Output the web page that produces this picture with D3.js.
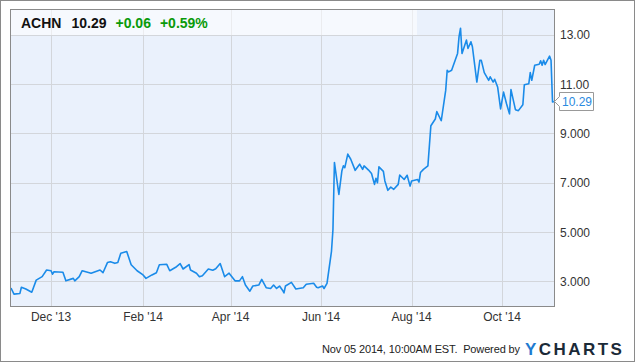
<!DOCTYPE html>
<html>
<head>
<meta charset="utf-8">
<script src="https://cdnjs.cloudflare.com/ajax/libs/d3/7.8.5/d3.min.js"></script>
<style>
  body { margin: 0; background: #fff; }
  text { font-family: "Liberation Sans", Arial, sans-serif; }
</style>
</head>
<body>
<script>
// Data
const dates = [
  "2013-11-04","2013-11-06","2013-11-10","2013-11-11","2013-11-14","2013-11-18","2013-11-21","2013-11-25","2013-11-28",
  "2013-12-01","2013-12-02","2013-12-03","2013-12-09","2013-12-11","2013-12-16","2013-12-17","2013-12-20","2013-12-22","2013-12-28",
  "2014-01-03","2014-01-05","2014-01-08","2014-01-10","2014-01-13","2014-01-15","2014-01-17","2014-01-21","2014-01-24","2014-01-28",
  "2014-02-01","2014-02-03","2014-02-07","2014-02-10","2014-02-12","2014-02-17","2014-02-19","2014-02-23","2014-02-26","2014-02-28",
  "2014-03-04","2014-03-05","2014-03-09","2014-03-11","2014-03-13","2014-03-17","2014-03-20","2014-03-22","2014-03-25","2014-03-28","2014-03-31",
  "2014-04-04","2014-04-07","2014-04-09","2014-04-11","2014-04-14","2014-04-16","2014-04-20","2014-04-22","2014-04-25","2014-04-28","2014-04-30",
  "2014-05-02","2014-05-04","2014-05-06","2014-05-07","2014-05-08","2014-05-12","2014-05-15","2014-05-20","2014-05-22","2014-05-27","2014-05-29","2014-05-30",
  "2014-06-02","2014-06-03","2014-06-05","2014-06-08","2014-06-09","2014-06-10","2014-06-13","2014-06-15","2014-06-16","2014-06-17","2014-06-19","2014-06-21","2014-06-24","2014-06-27","2014-06-29","2014-06-30",
  "2014-07-03","2014-07-05","2014-07-07","2014-07-08","2014-07-09","2014-07-10","2014-07-13","2014-07-14","2014-07-16","2014-07-18","2014-07-20","2014-07-23","2014-07-24","2014-07-27","2014-07-29","2014-07-31",
  "2014-08-01","2014-08-05","2014-08-06","2014-08-07","2014-08-09","2014-08-12","2014-08-14","2014-08-17","2014-08-18","2014-08-21","2014-08-24","2014-08-25","2014-08-26","2014-08-28",
  "2014-09-01","2014-09-02","2014-09-03","2014-09-04","2014-09-07","2014-09-08","2014-09-10","2014-09-11","2014-09-14","2014-09-16","2014-09-17","2014-09-19","2014-09-22","2014-09-23","2014-09-25","2014-09-26","2014-09-28","2014-09-30",
  "2014-10-02","2014-10-04","2014-10-06","2014-10-07","2014-10-10","2014-10-12","2014-10-15","2014-10-16","2014-10-19","2014-10-20","2014-10-21","2014-10-23","2014-10-26","2014-10-27","2014-10-28","2014-10-29","2014-10-30",
  "2014-11-02","2014-11-03","2014-11-04","2014-11-05"
]
const prices = [
  2.73,2.48,2.51,2.76,2.69,2.56,3.05,3.19,3.46,
  3.43,3.29,3.39,3.37,3.02,3.12,3.02,3.19,3.43,3.33,
  3.46,3.35,3.76,3.79,3.73,3.76,4.14,4.21,3.67,3.43,
  3.26,3.12,3.26,3.35,3.67,3.69,3.43,3.57,3.72,3.50,
  3.68,3.46,3.33,3.19,3.23,3.50,3.45,3.51,3.72,3.19,3.33,
  3.02,3.02,3.19,2.85,2.60,2.81,2.85,3.08,2.74,2.71,2.85,
  2.71,2.81,2.64,2.53,2.81,2.96,2.69,2.74,2.88,2.92,2.76,2.74,
  2.81,2.71,2.92,4.21,5.09,7.82,6.52,7.47,7.68,7.61,8.16,7.95,7.50,7.75,7.54,7.68,
  7.51,7.37,6.93,7.18,7.00,7.64,7.46,7.07,6.69,6.82,6.73,6.93,7.31,7.13,7.30,6.86,
  7.07,7.13,7.02,7.41,7.54,7.68,9.31,9.58,9.88,9.51,10.74,11.56,11.49,11.56,
  12.24,12.92,13.26,12.24,12.78,12.44,12.71,12.51,11.08,11.96,11.96,11.46,11.15,11.29,11.08,11.19,10.88,9.99,
  10.67,10.20,9.79,10.77,9.96,9.92,10.16,10.97,11.01,11.46,11.15,11.76,11.80,11.94,11.76,11.96,11.79,
  12.13,11.96,10.27,10.29
]
const yTicks = [3, 5, 7, 9, 11, 13]
const yTickLabels = ["3.000", "5.000", "7.000", "9.000", "11.00", "13.00"]
const xTicks = ["2013-12-01", "2014-02-01", "2014-04-01", "2014-06-01", "2014-08-01", "2014-10-01"]
const xTickLabels = ["Dec '13", "Feb '14", "Apr '14", "Jun '14", "Aug '14", "Oct '14"]
const ticker = "ACHN"
const lastPrice = "10.29"
const change = "+0.06"
const changePct = "+0.59%"

const parse = d3.timeParse("%Y-%m-%d")
const series = dates.map((d, i) => ({ date: parse(d), value: prices[i] }))

const W = 635, H = 362
const plot = { left: 11, right: 554, top: 10, bottom: 306 }

let svg = d3.select('body')
  .append('svg')
    .attr('width', W)
    .attr('height', H)

// outer frame
svg.append('rect')
  .attr('x', 0.5).attr('y', 0.5)
  .attr('width', W - 1).attr('height', H - 1)
  .attr('fill', '#fff').attr('stroke', '#8a8a8a')

const x = d3.scaleTime()
  .domain([parse("2013-11-04"), parse("2014-11-05")])
  .range([plot.left, plot.right])

const y = d3.scaleLinear()
  .domain([2, 14])
  .range([plot.bottom, plot.top])

// plot background
svg.append('rect')
  .attr('x', plot.left).attr('y', plot.top)
  .attr('width', plot.right - plot.left).attr('height', plot.bottom - plot.top)
  .attr('fill', '#eaf1fc')

// grid
svg.append('g')
  .selectAll('line')
  .data(xTicks.map(parse))
  .enter().append('line')
    .attr('x1', d => Math.round(x(d)) + 0.5).attr('x2', d => Math.round(x(d)) + 0.5)
    .attr('y1', plot.top).attr('y2', plot.bottom)
    .attr('stroke', '#d3d6db')

svg.append('g')
  .selectAll('line')
  .data(yTicks)
  .enter().append('line')
    .attr('x1', plot.left).attr('x2', plot.right)
    .attr('y1', d => Math.round(y(d)) + 0.5).attr('y2', d => Math.round(y(d)) + 0.5)
    .attr('stroke', '#d3d6db')

// header band (semi transparent white)
svg.append('rect')
  .attr('x', plot.left).attr('y', plot.top)
  .attr('width', 406).attr('height', 25)
  .attr('fill', '#fff').attr('opacity', 0.55)

// price line
const line = d3.line()
  .x(d => x(d.date))
  .y(d => y(d.value))

svg.append('path')
  .datum(series)
  .attr('d', line)
  .attr('fill', 'none')
  .attr('stroke', '#1a8be9')
  .attr('stroke-width', 1.6)
  .attr('stroke-linejoin', 'round')

// plot border
svg.append('rect')
  .attr('x', plot.left - 0.5).attr('y', plot.top - 0.5)
  .attr('width', plot.right - plot.left + 1).attr('height', plot.bottom - plot.top + 1)
  .attr('fill', 'none').attr('stroke', '#8a8a8a')

// y axis labels
svg.append('g')
  .selectAll('text')
  .data(yTicks)
  .enter().append('text')
    .attr('x', 560)
    .attr('y', d => y(d) + 4.5)
    .attr('font-size', 12)
    .attr('fill', '#333')
    .text((d, i) => yTickLabels[i])

// x axis labels
svg.append('g')
  .selectAll('text')
  .data(xTicks.map(parse))
  .enter().append('text')
    .attr('x', d => x(d))
    .attr('y', 321)
    .attr('text-anchor', 'middle')
    .attr('font-size', 12)
    .attr('fill', '#333')
    .text((d, i) => xTickLabels[i])

// last price tag
const last = series[series.length - 1]
const ly = y(last.value)
const tag = svg.append('g')
tag.append('path')
  .attr('d', `M${x(last.date) + 0.5},${ly} L559.5,${ly - 5} L559.5,${ly - 9} L593.5,${ly - 9} L593.5,${ly + 9} L559.5,${ly + 9} L559.5,${ly + 5} Z`)
  .attr('fill', '#fff').attr('stroke', '#999')
tag.append('text')
  .attr('x', 562).attr('y', ly + 4.5)
  .attr('font-size', 12)
  .attr('fill', '#2a8ae0')
  .text(lastPrice)

// header text
const head = svg.append('text')
  .attr('x', 21).attr('y', 28)
  .attr('font-size', 14)
  .attr('font-weight', 'bold')
head.append('tspan').attr('fill', '#111').text(ticker)
head.append('tspan').attr('fill', '#111').attr('dx', 10).text(lastPrice)
head.append('tspan').attr('fill', '#0a9a0a').attr('dx', 9).text(change)
head.append('tspan').attr('fill', '#0a9a0a').attr('dx', 9).text(changePct)

// footer
svg.append('text')
  .attr('x', 322).attr('y', 353)
  .attr('font-size', 11)
  .attr('fill', '#222')
  .attr('xml:space', 'preserve')
  .attr('textLength', 198)
  .attr('lengthAdjust', 'spacing')
  .text('Nov 05 2014, 10:00AM EST.  Powered by')

const logo = svg.append('text')
  .attr('x', 525).attr('y', 354.5)
  .attr('font-size', 17)
  .attr('font-weight', 'bold')
  .attr('letter-spacing', 2.2)
  .attr('textLength', 99)
  .attr('lengthAdjust', 'spacing')
logo.append('tspan').attr('fill', '#1f7bd1').text('Y')
logo.append('tspan').attr('fill', '#1b2a38').text('CHARTS')
</script>
</body>
</html>
